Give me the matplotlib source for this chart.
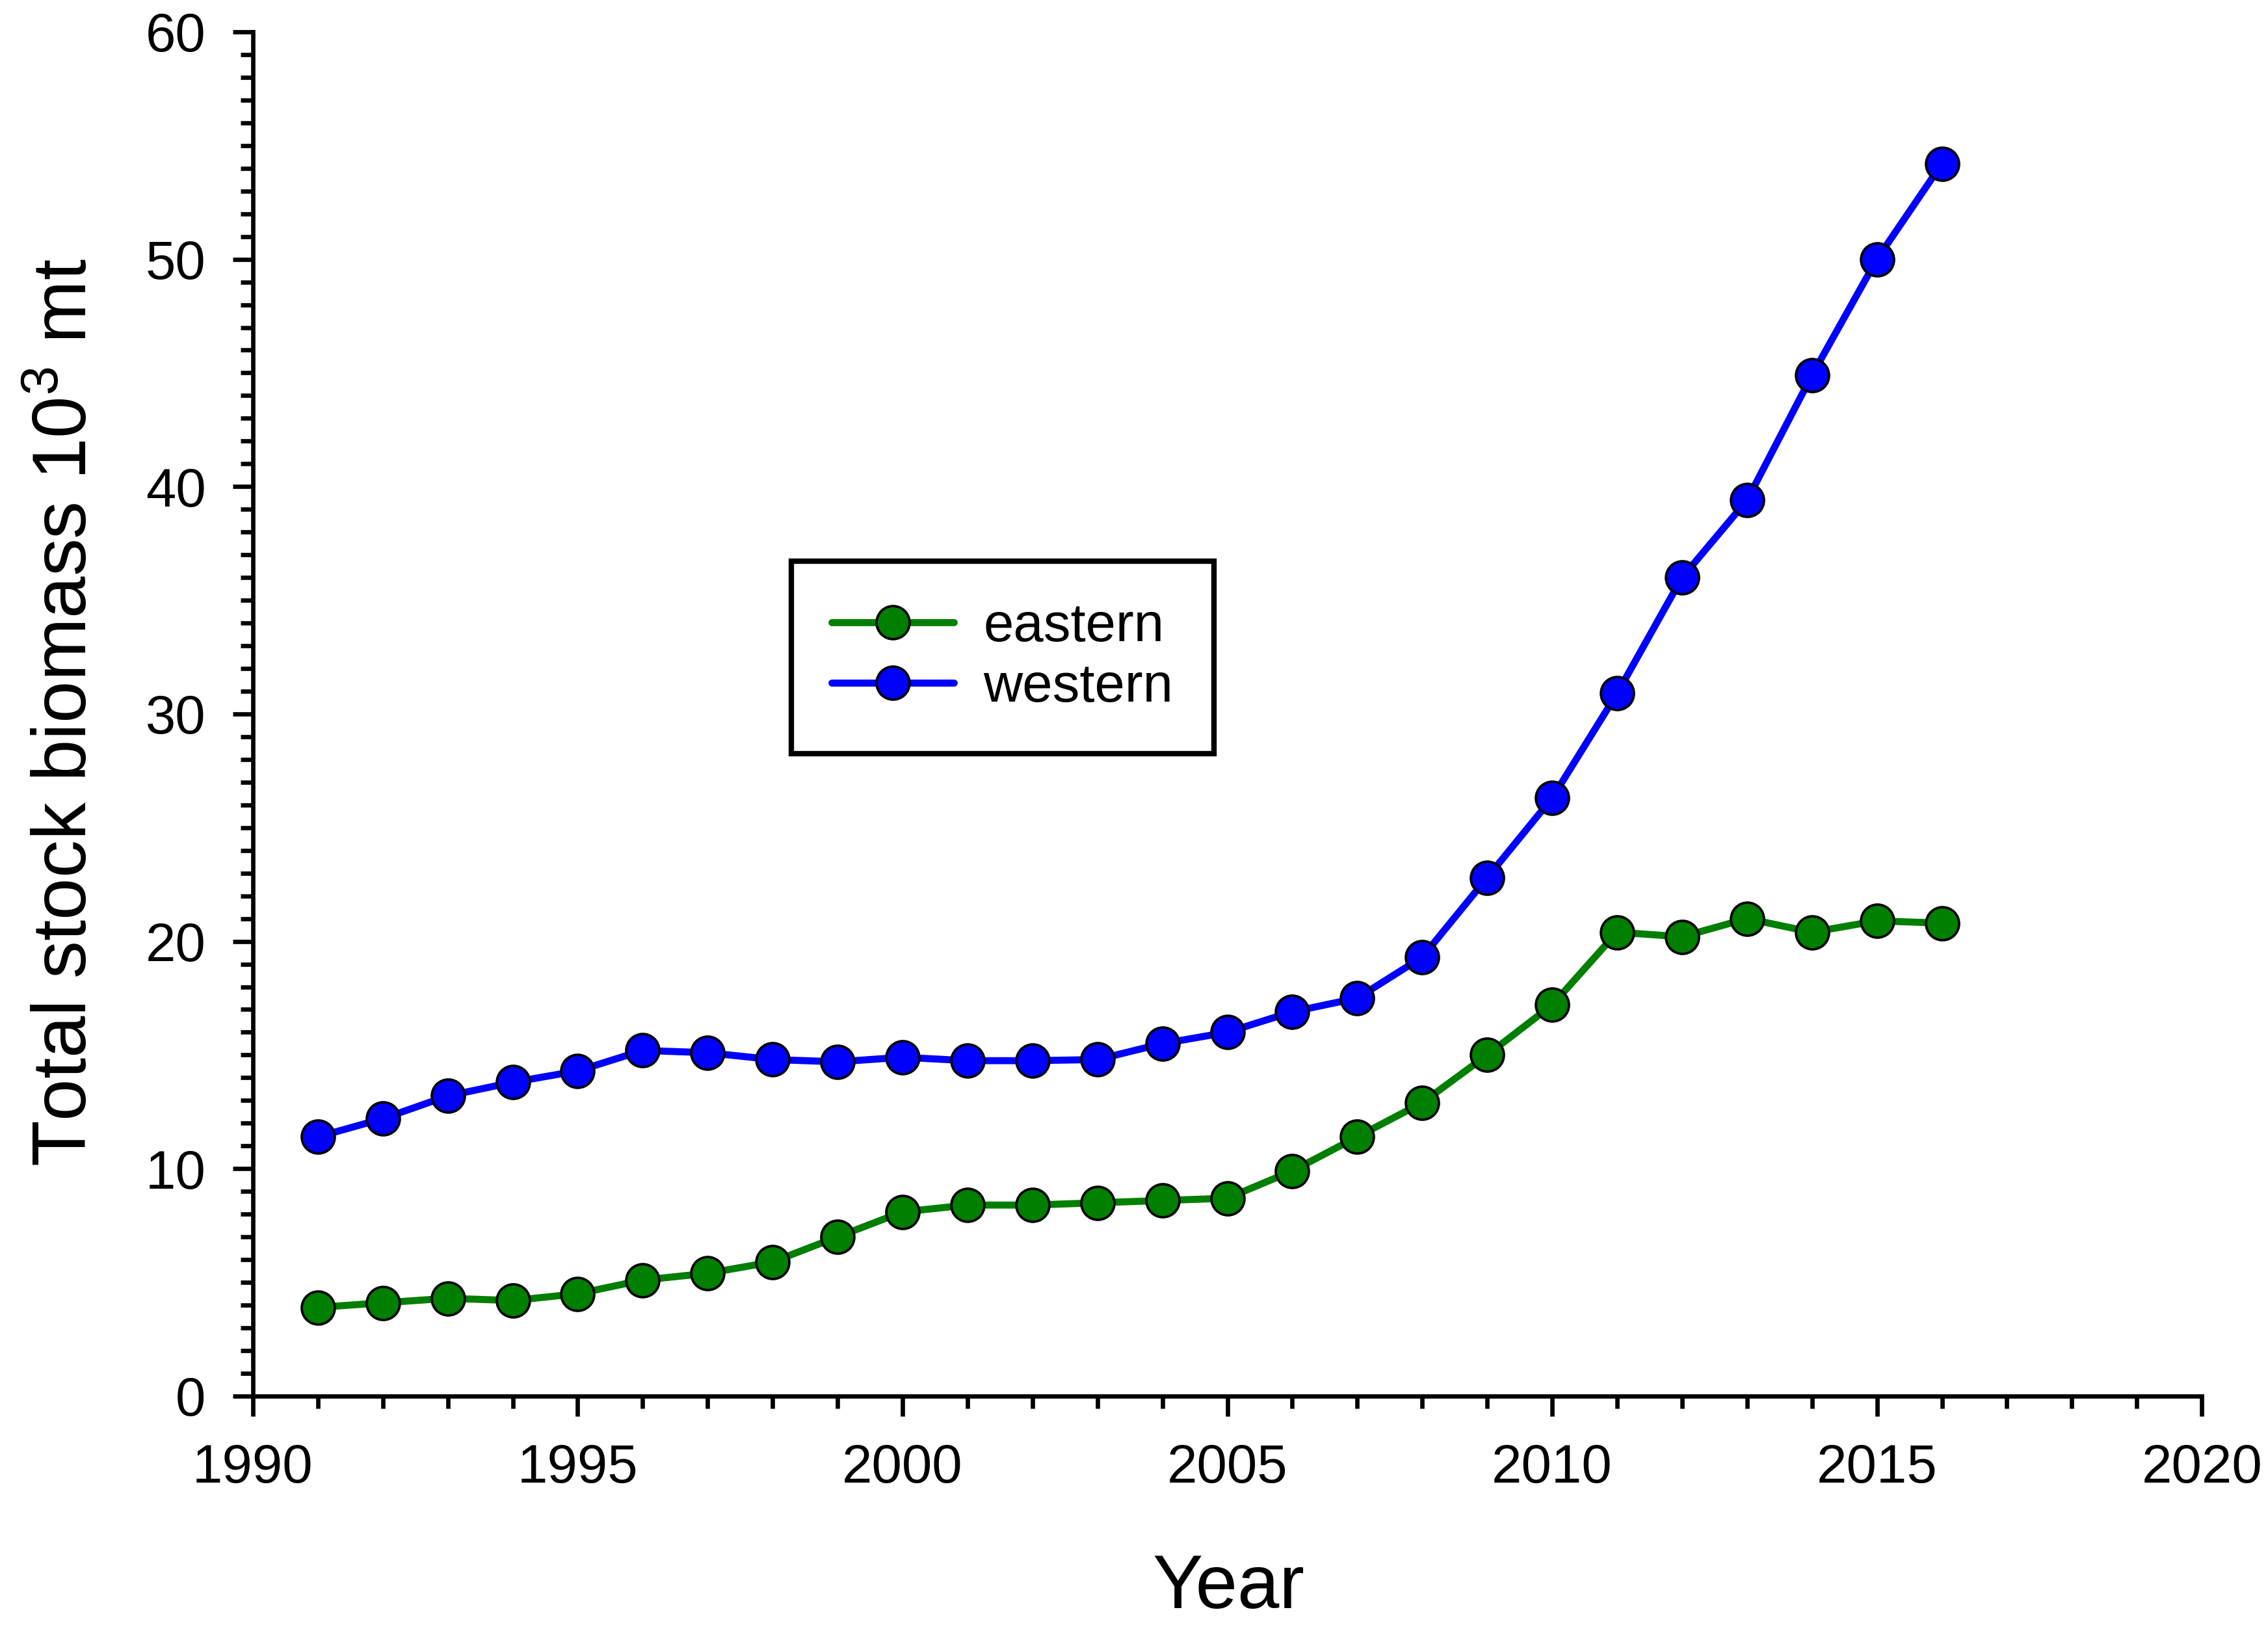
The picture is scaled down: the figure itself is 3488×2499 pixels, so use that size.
import matplotlib
matplotlib.use("Agg")
import matplotlib.pyplot as plt
from matplotlib.ticker import MultipleLocator

plt.rcParams['font.family'] = ['Liberation Sans', 'DejaVu Sans']
plt.rcParams['mathtext.default'] = 'regular'

years = list(range(1991, 2017))
eastern = [3.9, 4.1, 4.3, 4.2, 4.5, 5.1, 5.4, 5.9, 7.0, 8.1, 8.4, 8.4, 8.5, 8.6, 8.7,
           9.9, 11.4, 12.9, 15.0, 17.2, 20.4, 20.2, 21.0, 20.4, 20.9, 20.8]
western = [11.4, 12.2, 13.2, 13.8, 14.3, 15.2, 15.1, 14.8, 14.7, 14.9, 14.75, 14.75, 14.8,
           15.5, 16.0, 16.9, 17.5, 19.3, 22.8, 26.3, 30.9, 36.0, 39.4, 44.9, 50.0, 54.2]

fig = plt.figure(figsize=(3488 / 300, 2499 / 300), dpi=300)
ax = fig.add_axes([0.1115, 0.1409, 0.8593, 0.8395])

style = dict(linewidth=2.6, marker='o', markersize=12.2, markeredgecolor='black',
             markeredgewidth=0.9, solid_capstyle='round')
ax.plot(years, eastern, color='#007F00', markerfacecolor='#007F00', label='eastern', **style)
ax.plot(years, western, color='#0000FF', markerfacecolor='#0000FF', label='western', **style)

ax.set_xlim(1990, 2020)
ax.set_ylim(0, 60)
ax.xaxis.set_major_locator(MultipleLocator(5))
ax.xaxis.set_minor_locator(MultipleLocator(1))
ax.yaxis.set_major_locator(MultipleLocator(10))
ax.yaxis.set_minor_locator(MultipleLocator(1))

for side in ['top', 'right']:
    ax.spines[side].set_visible(False)
for side in ['left', 'bottom']:
    ax.spines[side].set_linewidth(1.6)

ax.tick_params(which='major', direction='out', length=7.4, width=1.6, labelsize=20, pad=10)
ax.tick_params(which='minor', direction='out', length=4.6, width=1.6)

ax.set_xlabel('Year', fontsize=27.8)
ax.set_ylabel('Total stock biomass 10$^3$ mt', fontsize=27.8)
ax.xaxis.set_label_coords(0.5005, -0.115)
ax.yaxis.set_label_coords(-0.0774, 0.501)

leg = ax.legend(loc='center', bbox_to_anchor=(0.3846, 0.5415), borderaxespad=0,
                fontsize=20, handlelength=2.25, frameon=True, fancybox=False,
                framealpha=1, edgecolor='black', borderpad=0.75, labelspacing=0.18,
                handletextpad=0.55)
leg.get_frame().set_linewidth(2.0)

fig.savefig('out.png', dpi=300)
